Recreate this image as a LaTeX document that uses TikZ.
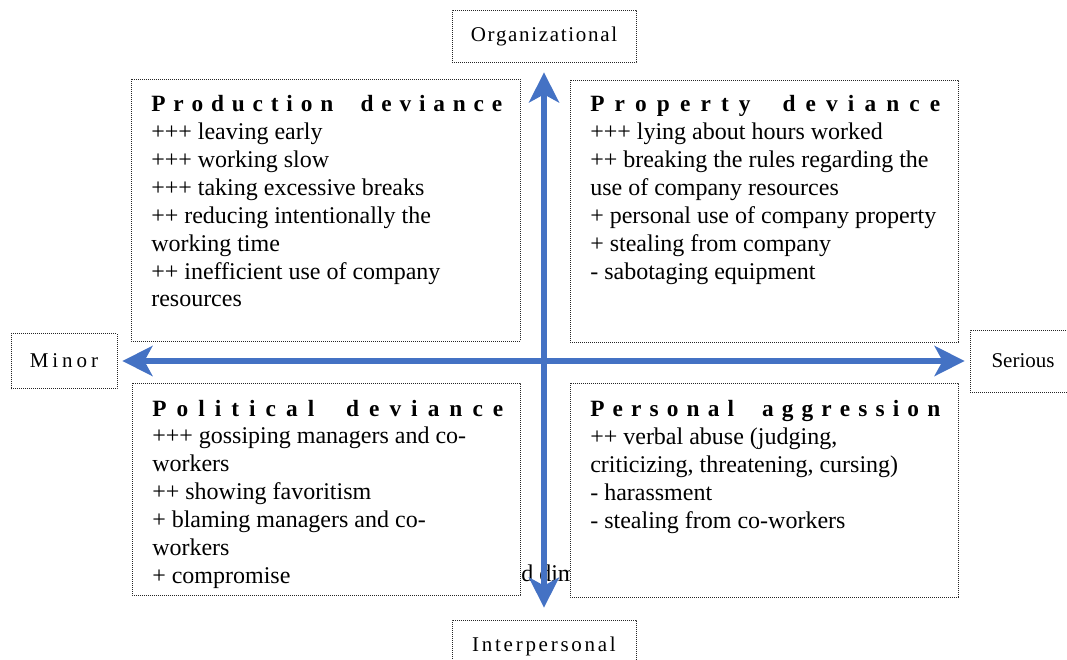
\documentclass[tikz,border=0pt]{standalone}
\usepackage{fontspec}
\setmainfont{Liberation Serif}
\newfontfamily\spacedfont[LetterSpace=8]{Liberation Serif}
\newfontfamily\widerfont[LetterSpace=13]{Liberation Serif}
\newfontfamily\widestfont[LetterSpace=19]{Liberation Serif}
\usetikzlibrary{arrows.meta}

\definecolor{axisblue}{RGB}{68,114,196}

% spread the letters of a heading over a fixed width
\makeatletter
\newcommand\spreadtitle[2]{\hbox to #1{\spread@letters#2\@nil}}
\def\spread@letters#1#2\@nil{#1\ifx\relax#2\relax\else\hfil\spread@letters#2\@nil\fi}
\makeatother

\tikzset{
  dotframe/.style={draw=black!85, line width=0.6pt, dash pattern=on 0.6pt off 0.9pt, fill=white},
  labelbox/.style={dotframe, inner sep=0pt, font=\fontsize{15.75}{18}\selectfont},
  heading/.style={anchor=base west, inner sep=0pt, font=\fontsize{17.5}{20}\selectfont\bfseries},
  items/.style={anchor=north west, inner sep=0pt, align=left, font=\fontsize{18}{20.9}\selectfont},
  axisarrow/.style={draw=axisblue, line width=4.5pt,
    {Stealth[length=22.5pt,width=22.5pt,inset=6pt]}-{Stealth[length=22.5pt,width=22.5pt,inset=6pt]}}
}

\begin{document}
\begin{tikzpicture}[x=0.75pt,y=0.75pt,yscale=-1,xscale=1]
    \useasboundingbox (0,0) rectangle (1067,660);

    %Text behind the frames
    \node[anchor=base west, inner sep=0pt, font=\fontsize{18}{20.9}\selectfont] (stray) at (521,581) {d dim};

    %Quadrant frames
    \draw[dotframe] (131,79) rectangle (520,341);
    \draw[dotframe] (570,80) rectangle (958,342);
    \draw[dotframe] (132,383) rectangle (520,595);
    \draw[dotframe] (570,383) rectangle (958,597);

    %Production deviance
    \node[heading] (prodhead) at (151,111) {\spreadtitle{263.25pt}{Production{\ \ }deviance}};
    \node[items] (prodlist) at (151,120) {\strut+++ leaving early\\
      +++ working slow\\
      +++ taking excessive breaks\\
      ++ reducing intentionally the\\
      working time\\
      ++ inefficient use of company\\
      resources};

    %Property deviance
    \node[heading] (prophead) at (590,111) {\spreadtitle{262.5pt}{Property{\ \ }deviance}};
    \node[items] (proplist) at (590,120) {\strut+++ lying about hours worked\\
      ++ breaking the rules regarding the\\
      use of company resources\\
      + personal use of company property\\
      + stealing from company\\
      - sabotaging equipment};

    %Political deviance
    \node[heading] (polhead) at (152,416) {\spreadtitle{263.25pt}{Political{\ \ }deviance}};
    \node[items] (pollist) at (152,424) {\strut+++ gossiping managers and co-\\
      workers\\
      ++ showing favoritism\\
      + blaming managers and co-\\
      workers\\
      + compromise};

    %Personal aggression
    \node[heading] (perhead) at (590,416) {\spreadtitle{262.5pt}{Personal{\ \ }aggression}};
    \node[items] (perlist) at (590,425) {\strut++ verbal abuse (judging,\\
      criticizing, threatening, cursing)\\
      - harassment\\
      - stealing from co-workers};

    %Axis labels
    \node[labelbox, minimum width=138pt, minimum height=39pt] (org) at (544,36) {\spacedfont Organizational};
    \node[labelbox, minimum width=138pt, minimum height=39pt] (inter) at (544,646) {\widerfont Interpersonal};
    \node[labelbox, minimum width=79.5pt, minimum height=41.25pt] (minor) at (64,361) {\widestfont Minor};
    \node[labelbox, minimum width=79.5pt, minimum height=46.5pt] (serious) at (1023,361) {Serious};

    %Axes
    \draw[axisarrow, shorten <=3.75pt, shorten >=3.75pt] (minor) -- (serious);
    \draw[axisarrow, shorten <=7.5pt, shorten >=9pt] (org) -- (inter);

\end{tikzpicture}
\end{document}
